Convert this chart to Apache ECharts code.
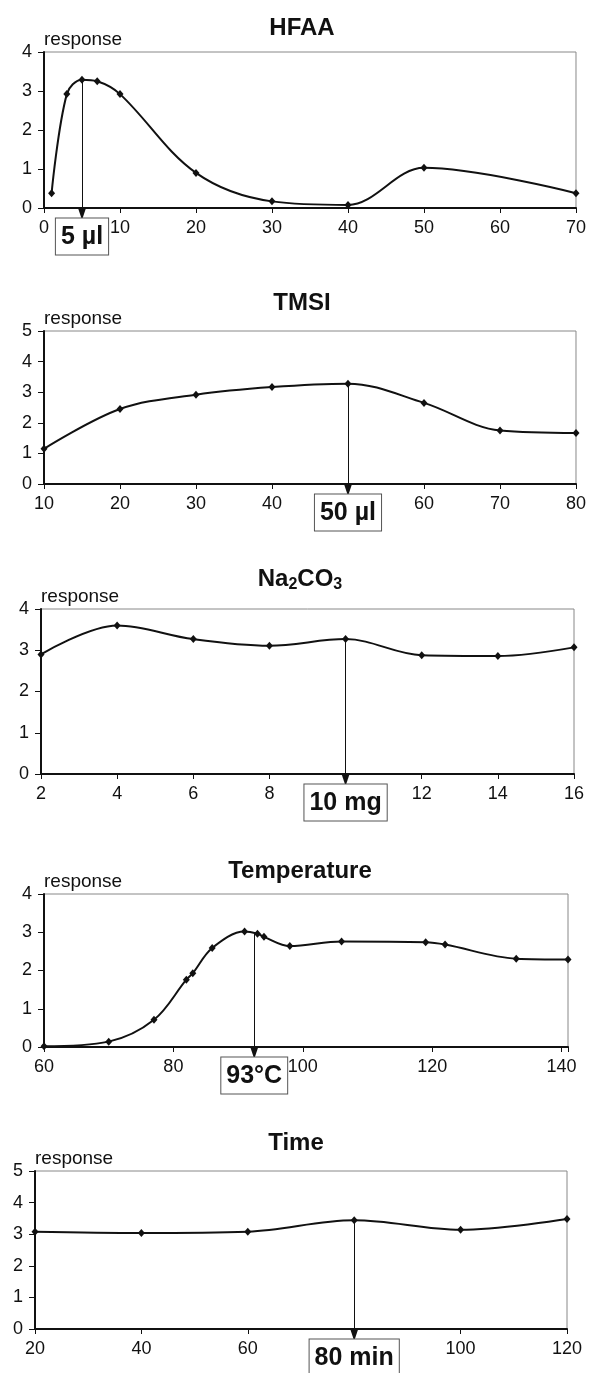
<!DOCTYPE html>
<html>
<head>
<meta charset="utf-8">
<title>Derivatisation optimisation</title>
<script src="https://cdn.jsdelivr.net/npm/echarts@6/dist/echarts.min.js"></script>
<style>
  html, body { margin: 0; padding: 0; background: #fff; }
  #main { width: 589px; height: 1373px; }
</style>
</head>
<body>
<div id="main"></div>
<script>
"use strict";
// HFAA volume (µl) vs response
var hfaaX = [1, 3, 5, 7, 10, 20, 30, 40, 50, 70];
var hfaaY = [0.38, 2.92, 3.29, 3.25, 2.92, 0.9, 0.17, 0.08, 1.03, 0.38];
// TMSI volume (µl)
var tmsiX = [10, 20, 30, 40, 50, 60, 70, 80];
var tmsiY = [1.15, 2.45, 2.92, 3.17, 3.28, 2.65, 1.75, 1.67];
// Na2CO3 amount (mg)
var naX = [2, 4, 6, 8, 10, 12, 14, 16];
var naY = [2.9, 3.6, 3.27, 3.11, 3.27, 2.88, 2.86, 3.07];
// temperature (°C)
var tempX = [60, 70, 77, 82, 83, 86, 91, 93, 94, 98, 106, 119, 122, 133, 141];
var tempY = [0.02, 0.14, 0.71, 1.76, 1.93, 2.59, 3.02, 2.96, 2.88, 2.64, 2.76, 2.74, 2.68, 2.31, 2.29];
// reaction time (min)
var timeX = [20, 40, 60, 80, 100, 120];
var timeY = [3.08, 3.04, 3.08, 3.44, 3.14, 3.48];

var panelTitles = ["HFAA", "TMSI", "Na{s|2}CO{s|3}", "Temperature", "Time"];
// chosen optimum of each panel (arrow + boxed label)
var optimumX = [5, 50, 10, 92.5, 80];
var optimumY = [3.29, 3.28, 3.27, 3.0, 3.44];
var optimumText = ["5 µl", "50 µl", "10 mg", "93°C", "80 min"];
// x axis: min, max, interval ; y axis max
var xMin = [0, 10, 2, 60, 20];
var xMax = [70, 80, 16, 141, 120];
var xStep = [10, 10, 2, 20, 20];
var yMax = [4, 5, 4, 4, 5];

var seriesX = [hfaaX, tmsiX, naX, tempX, timeX];
var seriesY = [hfaaY, tmsiY, naY, tempY, timeY];

// layout of the five plot frames (px)
var frames = [
    {left: 44, top: 52, width: 533, height: 156},
    {left: 44, top: 331, width: 532, height: 153},
    {left: 41, top: 609, width: 533, height: 165},
    {left: 44, top: 894, width: 524, height: 153},
    {left: 35, top: 1171, width: 532, height: 158}
];
var titleCenter = [[302, 14], [302, 289], [300, 565], [300, 857], [296, 1129]];

var font = "Liberation Sans, Arial, sans-serif";

var chart = echarts.init(document.getElementById("main"), null, {renderer: "canvas"});

var grids = [], xAxes = [], yAxes = [], series = [], titles = [];

frames.forEach(function(f, i) {
    grids.push({
        left: f.left, top: f.top, width: f.width, height: f.height,
        show: true, borderColor: "#888", borderWidth: 1
    });
    titles.push({
        text: panelTitles[i],
        left: titleCenter[i][0], top: titleCenter[i][1],
        textAlign: "center", padding: 0,
        textStyle: {
            fontFamily: font, fontSize: 24, fontWeight: "bold", color: "#111",
            lineHeight: 28,
            rich: {
                s: {fontFamily: font, fontSize: 16, fontWeight: "bold", color: "#111",
                    lineHeight: 28, verticalAlign: "bottom"}
            }
        }
    });
    var hideVal = optimumX[i];
    xAxes.push({
        type: "value", gridIndex: i,
        min: xMin[i], max: xMax[i], interval: xStep[i],
        splitLine: {show: false},
        axisLine: {lineStyle: {color: "#111", width: 2}},
        axisTick: {length: 5, lineStyle: {color: "#111", width: 1}},
        axisLabel: {
            color: "#111", fontFamily: font, fontSize: 18, margin: 11,
            showMaxLabel: true,
            formatter: function(v) {
                if ((v - xMin[i]) % xStep[i] !== 0) return "";
                if (v === hideVal) return "";
                return String(v);
            }
        }
    });
    yAxes.push({
        type: "value", gridIndex: i,
        min: 0, max: yMax[i], interval: 1,
        name: "response", nameLocation: "end", nameGap: 3,
        nameTextStyle: {color: "#111", fontFamily: font, fontSize: 19,
            align: "left", verticalAlign: "bottom"},
        splitLine: {show: false},
        axisLine: {lineStyle: {color: "#111", width: 2}},
        axisTick: {length: 6, lineStyle: {color: "#111", width: 1}},
        axisLabel: {color: "#111", fontFamily: font, fontSize: 18, margin: 12}
    });
    var pts = seriesX[i].map(function(x, k) { return [x, seriesY[i][k]]; });
    series.push({
        type: "line", xAxisIndex: i, yAxisIndex: i,
        data: pts,
        smooth: 0.35,
        symbol: "diamond", symbolSize: [7, 8],
        itemStyle: {color: "#111"},
        lineStyle: {color: "#111", width: 2},
        z: 3,
        markLine: {
            silent: true, animation: false,
            symbol: ["none", "triangle"], symbolSize: [8, 12],
            symbolOffset: [[0, 0], [0, -6]],
            label: {show: false},
            lineStyle: {color: "#111", width: 1, type: "solid"},
            data: [[{coord: [optimumX[i], optimumY[i]]}, {coord: [optimumX[i], 0]}]]
        },
        markPoint: {
            silent: true, animation: false,
            symbol: "rect", symbolSize: 1,
            itemStyle: {color: "rgba(0,0,0,0)"},
            label: {
                show: true, position: "bottom", distance: 10,
                formatter: optimumText[i],
                color: "#111", fontFamily: font, fontSize: 25, fontWeight: "bold",
                backgroundColor: "#fff", borderColor: "#555", borderWidth: 1,
                padding: [6, 5, 5, 5]
            },
            data: [{coord: [optimumX[i], 0]}]
        }
    });
});

chart.setOption({
    animation: false,
    backgroundColor: "#fff",
    textStyle: {fontFamily: font},
    title: titles,
    grid: grids,
    xAxis: xAxes,
    yAxis: yAxes,
    series: series
});
</script>
</body>
</html>
